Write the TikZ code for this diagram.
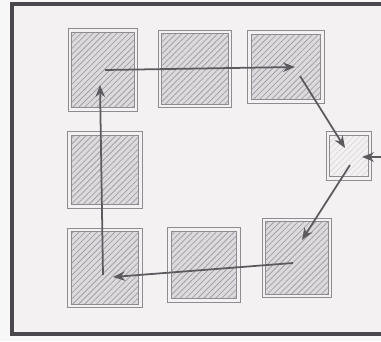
\documentclass[tikz,border=0pt]{standalone}
\usepackage{xcolor}
\definecolor{paper}{HTML}{F4F1F3}
\definecolor{margin}{HTML}{F7F7F7}
\definecolor{boxfill}{HTML}{DCDADD}
\definecolor{hatch}{HTML}{A3A1A5}
\definecolor{rim}{HTML}{8E8C90}
\definecolor{ink}{HTML}{5C5A5E}
\definecolor{framegray}{HTML}{4A484C}
\usepackage{tikz}
\usetikzlibrary{arrows.meta,patterns.meta,calc}

\begin{document}
\begin{tikzpicture}[
  x=0.02cm,y=-0.02cm,
  cell/.style={draw=rim,line width=0.6pt,double=paper,double distance=1.6pt,preaction={fill=boxfill},pattern={Lines[angle=45,distance=2.4pt,line width=0.45pt]},pattern color=hatch,inner sep=0pt},
  smallcell/.style={cell,preaction={fill=paper},pattern color=boxfill},
  arrow/.style={-{Stealth[length=2.4mm,width=1.9mm]},draw=ink,line width=1pt}
]
\useasboundingbox (0,0) rectangle (381,341);
\fill[margin] (0,0) rectangle (381,341);
\fill[paper] (12,4) rectangle (381,334);
\draw[framegray,line width=1.8pt] (381,4) -- (12,4) -- (12,334) -- (381,334);

\node[cell,minimum width=1.32cm,minimum height=1.58cm] (topleft) at (103,70) {};
\node[cell,minimum width=1.40cm,minimum height=1.48cm] (topmid) at (195,69) {};
\node[cell,minimum width=1.46cm,minimum height=1.38cm] (topright) at (286,67) {};
\node[cell,minimum width=1.42cm,minimum height=1.46cm] (midleft) at (105,170) {};
\node[cell,minimum width=1.42cm,minimum height=1.52cm] (bottomleft) at (105,268) {};
\node[cell,minimum width=1.38cm,minimum height=1.42cm] (bottommid) at (204,265) {};
\node[cell,minimum width=1.32cm,minimum height=1.52cm] (bottomright) at (297,258) {};
\node[smallcell,minimum width=0.84cm,minimum height=0.90cm] (feeder) at (349,156) {};
\coordinate (feed) at (381,157);

\draw[arrow] ($(topleft)+(2,0)$) -- ($(topright)+(9,0)$);
\draw[arrow] ($(topright)+(14,9)$) -- ($(feeder)+(-4,-8)$);
\draw[arrow] (feed) -- ($(feeder)+(13,1)$);
\draw[arrow] ($(feeder)+(1,9)$) -- ($(bottomright)+(5,-18)$);
\draw[arrow] ($(bottomright)+(-4,5)$) -- ($(bottomleft)+(8,9)$);
\draw[arrow] ($(bottomleft)+(-2,7)$) -- ($(topleft)+(-3,15)$);
\end{tikzpicture}
\end{document}
